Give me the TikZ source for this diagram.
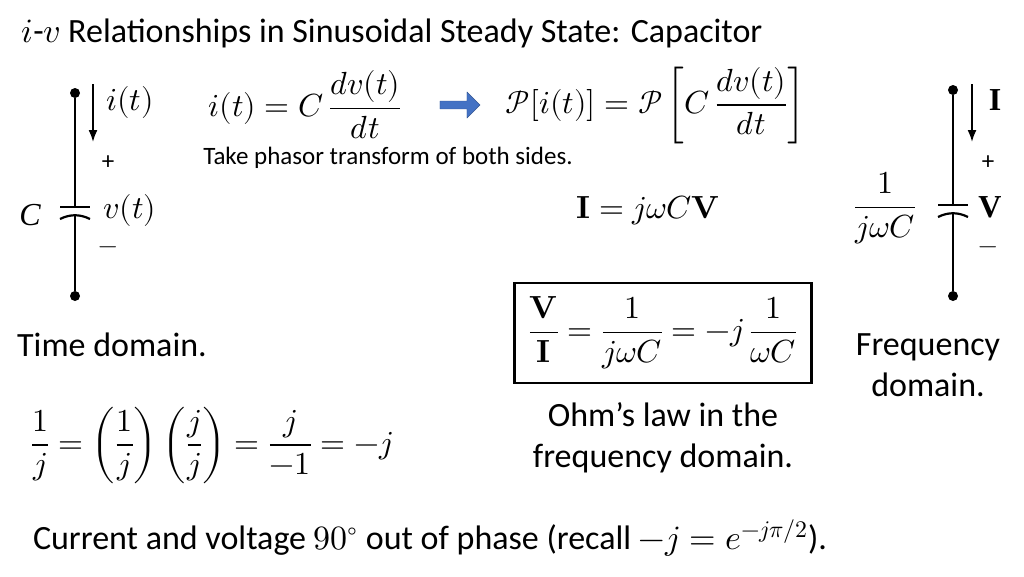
\documentclass[tikz,border=0pt]{standalone}
\usepackage{amsmath}
\usepackage{fontspec}
\usepackage{unicode-math}
\setmainfont{Carlito}
\setmathfont{Latin Modern Math}
\newfontfamily\serifb{Liberation Serif}
\usetikzlibrary{arrows.meta,shapes.arrows}
\tikzset{
  wire/.style={line width=2.2pt},
  dot/.style={circle,fill=black,inner sep=0pt,minimum size=10pt},
  txt/.style={font=\fontsize{34}{41}\selectfont},
  mth/.style={font=\fontsize{32}{38}\selectfont},
  small/.style={font=\fontsize{25}{30}\selectfont},
  curarrow/.style={line width=1.8pt,-{Latex[length=12pt,width=9pt]}}
}
\begin{document}
\begin{tikzpicture}[x=1pt,y=-1pt]
\useasboundingbox (0,0) rectangle (1024,576);
\node[txt,anchor=west] (title) at (18,33) {$i$-$v$ Relationships in Sinusoidal Steady State: Capacitor};
% time domain circuit
\node[dot] (ta) at (75,93) {};
\node[dot] (tb) at (75,296) {};
\coordinate (tp1) at (75,207);
\coordinate (tp2) at (75,216);
\draw[wire] (ta) -- (tp1);
\draw[wire] (tp2) -- (tb);
\draw[wire] (60,207) -- (90,207);
\draw[wire] (60,219) .. controls (70,214) and (80,214) .. (90,219);
\coordinate (tia) at (93,84);
\coordinate (tib) at (93,142);
\draw[curarrow] (tia) -- (tib);
\node[mth] (ti) at (130,102) {$i(t)$};
\node[small] (tplus) at (108,163) {+};
\node[mth] (tv) at (130,210) {$v(t)$};
\node[small] (tminus) at (108,250) {$-$};
\node[mth] (tc) at (30,215) {\serifb\itshape C};
\node[txt] (tdom) at (112,345) {Time domain.};
% frequency domain circuit
\node[dot] (fa) at (953,90) {};
\node[dot] (fb) at (953,296) {};
\coordinate (fp1) at (953,205);
\coordinate (fp2) at (953,214);
\draw[wire] (fa) -- (fp1);
\draw[wire] (fp2) -- (fb);
\draw[wire] (938,205) -- (968,205);
\draw[wire] (938,217) .. controls (948,212) and (958,212) .. (968,217);
\coordinate (fia) at (972,84);
\coordinate (fib) at (972,142);
\draw[curarrow] (fia) -- (fib);
\node[mth] (fi) at (995,100) {\serifb\bfseries I};
\node[small] (fplus) at (988,163) {+};
\node[mth] (fv) at (990,207) {\serifb\bfseries V};
\node[small] (fminus) at (988,250) {$-$};
\node[mth] (fz) at (885,208) {$\dfrac{1}{j\omega C}$};
\node[txt,align=center] (fdom) at (928,365) {Frequency\\domain.};
% equations
\node[mth] (eq1) at (305,105) {$i(t)=C\,\dfrac{dv(t)}{dt}$};
\node[single arrow,fill={rgb,255:red,68;green,114;blue,196},draw={rgb,255:red,47;green,82;blue,143},
  minimum height=40pt,minimum width=26pt,single arrow head extend=5pt,inner sep=2pt] (barrow) at (458,105) {};
\node[mth] (eq2) at (655,105) {$\mathcal{P}[i(t)]=\mathcal{P}\left[C\,\dfrac{dv(t)}{dt}\right]$};
\node[small] (note) at (388,158) {Take phasor transform of both sides.};
\node[mth] (eq3) at (648,210) {$\symbf{I}=j\omega C\symbf{V}$};
\node[mth,draw,line width=2.5pt,inner sep=4pt,minimum width=297pt,minimum height=100pt] (ohm) at (663,333)
  {$\dfrac{\symbf{V}}{\symbf{I}}=\dfrac{1}{j\omega C}=-j\,\dfrac{1}{\omega C}$};
\node[txt,align=center] (ohmtxt) at (663,438) {Ohm’s law in the\\frequency domain.};
\node[mth] (eq4) at (212,445) {$\dfrac{1}{j}=\left(\dfrac{1}{j}\right)\left(\dfrac{j}{j}\right)=\dfrac{j}{-1}=-j$};
\node[txt] (bottom) at (430,538) {Current and voltage $90^\circ$ out of phase (recall $-j=e^{-j\pi/2}$).};
\end{tikzpicture}
\end{document}
